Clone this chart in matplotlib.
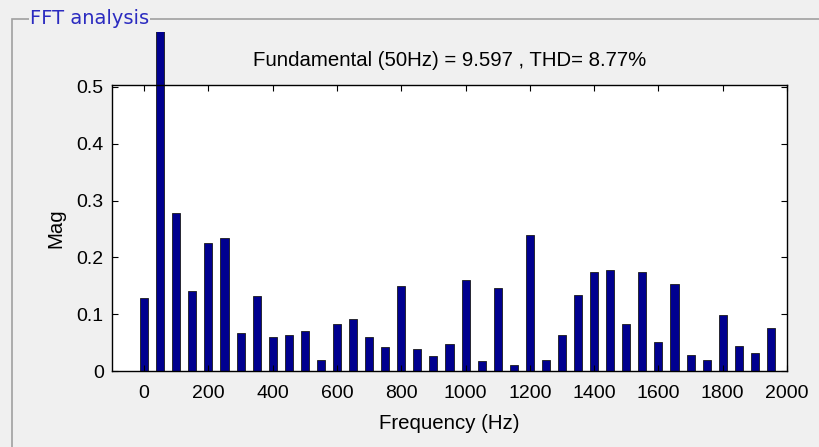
import matplotlib.pyplot as plt
import matplotlib.patches as mpatches
from matplotlib.transforms import Bbox, TransformedBbox

# harmonic spectrum, 0..1950 Hz in 50 Hz steps
freqs = [0, 50, 100, 150, 200, 250, 300, 350, 400, 450,
         500, 550, 600, 650, 700, 750, 800, 850, 900, 950,
         1000, 1050, 1100, 1150, 1200, 1250, 1300, 1350, 1400, 1450,
         1500, 1550, 1600, 1650, 1700, 1750, 1800, 1850, 1900, 1950]
mags = [0.128, 9.597, 0.278, 0.141, 0.225, 0.234, 0.067, 0.132, 0.060, 0.064,
        0.070, 0.020, 0.082, 0.092, 0.060, 0.042, 0.150, 0.039, 0.026, 0.048,
        0.160, 0.017, 0.147, 0.011, 0.240, 0.020, 0.064, 0.134, 0.175, 0.178,
        0.082, 0.175, 0.051, 0.153, 0.029, 0.020, 0.098, 0.044, 0.032, 0.076]
fundamental = 9.597
thd = 8.77

bg = '#f0f0f0'
plt.rcParams['font.family'] = ['Liberation Sans', 'DejaVu Sans']

fig = plt.figure(figsize=(8.19, 4.47), dpi=100)
fig.patch.set_facecolor(bg)

# panel frame
W, H = 819, 447
fig.add_artist(mpatches.Rectangle((12 / W, -0.1), 1.2, 1 - 19 / H + 0.1,
                                  transform=fig.transFigure, fill=False,
                                  edgecolor='#a0a0a0', linewidth=1.2))
fig.text(30 / W, 1 - 18 / H, 'FFT analysis', color='#2b2bc0', fontsize=14,
         family='DejaVu Sans', va='center', ha='left',
         bbox=dict(facecolor=bg, edgecolor='none', pad=1))

ax = fig.add_axes([112 / W, 1 - 371 / H, (787 - 112) / W, (371 - 85) / H])
bars = ax.bar(freqs, mags, width=25, color='#00008f', edgecolor='#1a1a1a',
              linewidth=0.6)

# fundamental bar runs above the axes, cut at the panel
clip = TransformedBbox(Bbox([[0, 0], [1, 1 - 32 / H]]), fig.transFigure)
bars[1].set_clip_on(True)
bars[1].set_clip_box(clip)

ax.set_xlim(-100, 2000)
ax.set_ylim(0, 0.5035)
ax.set_xticks(range(0, 2001, 200))
ax.set_yticks([0, 0.1, 0.2, 0.3, 0.4, 0.5])
ax.set_yticklabels(['0', '0.1', '0.2', '0.3', '0.4', '0.5'])
ax.tick_params(direction='in', length=4, width=0.8, labelsize=14,
               top=True, right=True, pad=6)
ax.tick_params(axis='x', pad=10)
for s in ax.spines.values():
    s.set_linewidth(1.0)

ax.set_xlabel('Frequency (Hz)', fontsize=14.7, labelpad=9)
ax.set_ylabel('Mag', fontsize=14.7, labelpad=8)
ax.set_title('Fundamental (50Hz) = %.3f , THD= %.2f%%' % (fundamental, thd),
             fontsize=14.7, pad=14)

fig.savefig('out.png', dpi=100, facecolor=bg)
